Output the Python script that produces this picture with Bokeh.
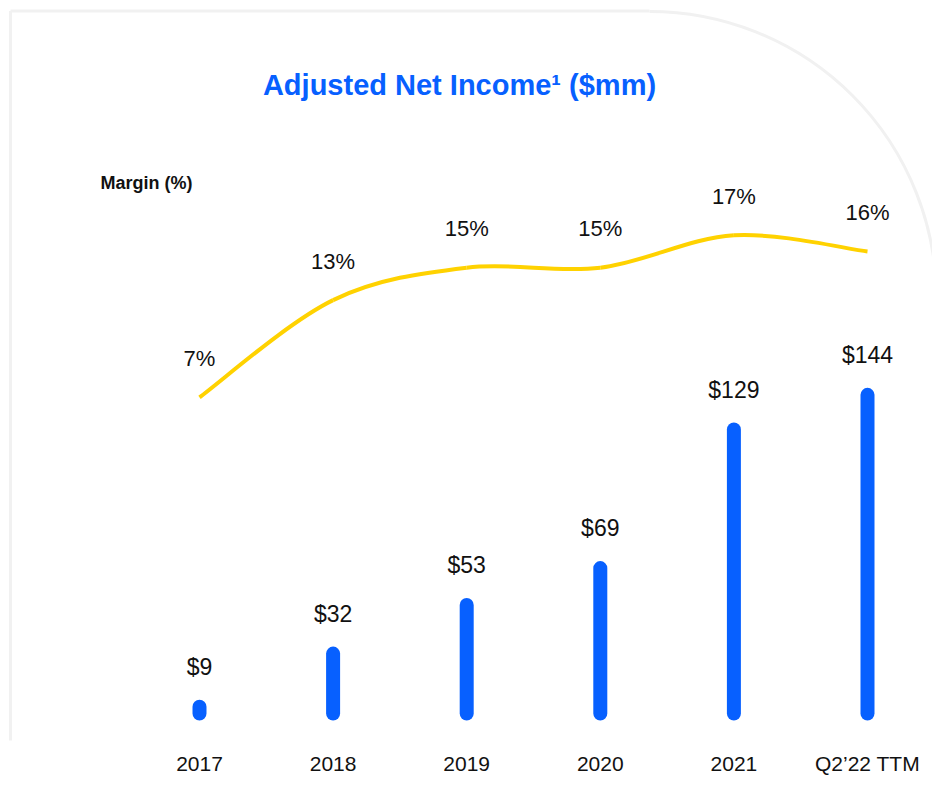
import math
from bokeh.plotting import figure
from bokeh.models import Range1d, FixedTicker, ColumnDataSource, Label
from bokeh.core.properties import value
from bokeh.embed import file_html
from bokeh.resources import INLINE

# ---------------- data ----------------
categories = ["2017", "2018", "2019", "2020", "2021", "Q2\u201922 TTM"]
net_income = [9, 32, 53, 69, 129, 144]          # $mm
margin_pct = [7, 13, 15, 15, 17, 16]            # %

# ---------------- style ----------------
BLUE = "#0760FF"
YELLOW = "#FFD200"
TEXT = "#111111"
CARD = "#F1F1F1"
FONT = "Liberation Sans"

# ---------------- layout (screen pixels -> ranges) ----------------
W, H = 932, 796
ORIGIN = 0                                # screen offset of the figure
FRAME_TOP, FRAME_BOTTOM = 0, 740          # screen y of plot frame
X0_PX, STEP_PX = 199, 133.6               # first category centre, spacing
BASE_PX, PX_PER_MM = 720, 2.31            # bar baseline, px per $mm
M_A, M_B = 510.2, 16.2                    # margin line: screen_y = M_A - M_B * m


def xd(px):
    return (px - X0_PX) / STEP_PX


def yd(py):
    return (BASE_PX - py) / PX_PER_MM


x_range = Range1d(xd(ORIGIN), xd(ORIGIN + W))
y_range = Range1d(yd(FRAME_BOTTOM), yd(FRAME_TOP))
m_range = Range1d((M_A - FRAME_BOTTOM) / M_B, (M_A - FRAME_TOP) / M_B)

p = figure(width=W, height=H, x_range=x_range, y_range=y_range,
           output_backend="svg", toolbar_location=None, y_axis_location=None,
           min_border_left=0, min_border_right=0, min_border_top=0,
           min_border_bottom=H - (FRAME_BOTTOM - FRAME_TOP),
           outline_line_color=None, background_fill_color="white",
           border_fill_color="white")
p.extra_y_ranges = {"margin": m_range}
p.grid.visible = False

idx = list(range(len(categories)))

# ---------------- card outline (decoration) ----------------
p.segment(x0=[xd(10), xd(10)], y0=[yd(10.5), yd(10.5)],
          x1=[xd(649), xd(10)], y1=[yd(10.5), yd(800)],
          line_color=CARD, line_width=3)
p.arc(x=[xd(649)], y=[yd(298)], radius=287, radius_units="screen",
      start_angle=0, end_angle=math.pi / 2, line_color=CARD, line_width=3)

# ---------------- bars ----------------
src = ColumnDataSource(dict(x=idx, v=net_income,
                            lab=[f"${v}" for v in net_income]))
p.vbar(x="x", top="v", bottom=0, width=14 / STEP_PX, source=src,
       fill_color=BLUE, line_color=None, border_radius=7)
p.text(x="x", y="v", text="lab", source=src, y_offset=-33,
       text_align="center", text_baseline="middle",
       text_font=value(FONT), text_font_size="23px", text_color=TEXT)

# ---------------- smooth margin line (Catmull-Rom as cubic Bezier) ----------------
n = len(idx)
bx0, by0, bx1, by1, c0x, c0y, c1x, c1y = [], [], [], [], [], [], [], []
for i in range(n - 1):
    pm = max(i - 1, 0)
    pn = min(i + 2, n - 1)
    bx0.append(idx[i]); by0.append(margin_pct[i])
    bx1.append(idx[i + 1]); by1.append(margin_pct[i + 1])
    c0x.append(idx[i] + (idx[i + 1] - idx[pm]) / 6)
    c0y.append(margin_pct[i] + (margin_pct[i + 1] - margin_pct[pm]) / 6)
    c1x.append(idx[i + 1] - (idx[pn] - idx[i]) / 6)
    c1y.append(margin_pct[i + 1] - (margin_pct[pn] - margin_pct[i]) / 6)
p.bezier(x0=bx0, y0=by0, x1=bx1, y1=by1, cx0=c0x, cy0=c0y, cx1=c1x, cy1=c1y,
         y_range_name="margin", line_color=YELLOW, line_width=4)

msrc = ColumnDataSource(dict(x=idx, m=margin_pct,
                             lab=[f"{m}%" for m in margin_pct]))
p.text(x="x", y="m", text="lab", source=msrc, y_range_name="margin",
       y_offset=-39, text_align="center", text_baseline="middle",
       text_font=value(FONT), text_font_size="22px", text_color=TEXT)

# ---------------- titles ----------------
p.add_layout(Label(x=xd(459), y=yd(84), text="Adjusted Net Income\u00b9 ($mm)",
                   text_align="center", text_baseline="middle",
                   text_font=FONT, text_font_size="29px",
                   text_font_style="bold", text_color=BLUE))
p.add_layout(Label(x=xd(100), y=yd(182), text="Margin (%)",
                   text_align="left", text_baseline="middle",
                   text_font=FONT, text_font_size="18px",
                   text_font_style="bold", text_color=TEXT))

# ---------------- x axis ----------------
ax = p.xaxis[0]
ax.ticker = FixedTicker(ticks=idx)
ax.major_label_overrides = {i: c for i, c in zip(idx, categories)}
ax.axis_line_color = None
ax.major_tick_line_color = None
ax.minor_tick_line_color = None
ax.major_tick_out = 0
ax.major_tick_in = 0
ax.major_label_standoff = 11
ax.major_label_text_font = FONT
ax.major_label_text_font_size = "21px"
ax.major_label_text_color = TEXT

open("out.html", "w").write(file_html(p, INLINE))
